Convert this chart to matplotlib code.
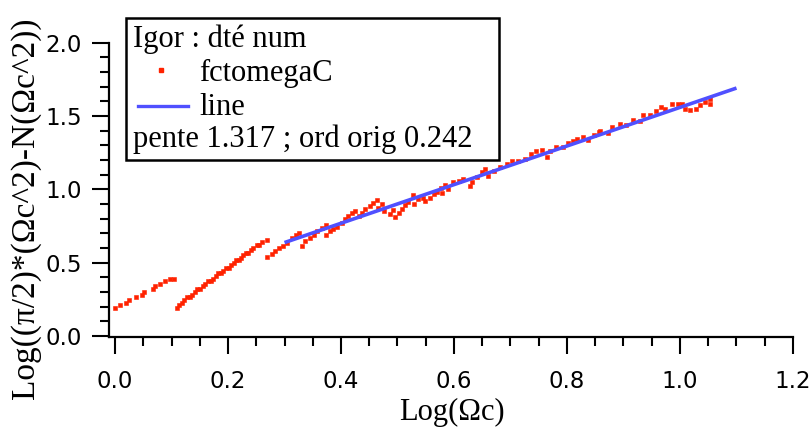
import matplotlib
matplotlib.use('Agg')
import matplotlib.pyplot as plt
from matplotlib.patches import Rectangle
from matplotlib.lines import Line2D
from matplotlib.ticker import MultipleLocator

# ---------------- data ----------------
seg1_x = [0.000, 0.009, 0.0195, 0.024, 0.038, 0.047, 0.052, 0.067, 0.071, 0.080, 0.0885, 0.097, 0.104]
seg1_y = [0.189, 0.208, 0.228, 0.247, 0.263, 0.281, 0.299, 0.320, 0.338, 0.357, 0.372, 0.391, 0.391]

seg2_x = [0.109, 0.114, 0.118, 0.123, 0.128, 0.132, 0.137, 0.141, 0.145, 0.150, 0.155, 0.160,
          0.164, 0.170, 0.173, 0.178, 0.183, 0.187, 0.192, 0.196, 0.201, 0.206, 0.210, 0.214,
          0.219, 0.223, 0.227, 0.232, 0.236, 0.241, 0.245, 0.251, 0.255, 0.260, 0.269]
seg2_y = [0.189, 0.208, 0.228, 0.247, 0.263, 0.263, 0.281, 0.299, 0.320, 0.320, 0.338, 0.357,
          0.372, 0.372, 0.391, 0.409, 0.430, 0.430, 0.446, 0.464, 0.464, 0.483, 0.499, 0.515,
          0.515, 0.533, 0.550, 0.568, 0.568, 0.587, 0.602, 0.621, 0.621, 0.641, 0.652]

seg3_x = [0.269, 0.277, 0.283, 0.291, 0.297, 0.304, 0.313, 0.320, 0.326, 0.331, 0.336, 0.345,
          0.352, 0.358, 0.366, 0.373, 0.374, 0.380, 0.386, 0.393, 0.401, 0.407, 0.413, 0.419,
          0.425, 0.431, 0.437, 0.442, 0.451, 0.457, 0.463, 0.466, 0.472, 0.476, 0.487, 0.492,
          0.496, 0.502, 0.508, 0.513, 0.519, 0.528, 0.529, 0.537, 0.546, 0.549, 0.558, 0.564,
          0.570, 0.577, 0.579, 0.584, 0.590, 0.599, 0.608, 0.616, 0.628, 0.631, 0.640, 0.649,
          0.655, 0.661, 0.670, 0.681, 0.693, 0.702, 0.714, 0.726, 0.737, 0.746, 0.755, 0.764,
          0.770, 0.781, 0.793, 0.802, 0.811, 0.817, 0.829, 0.838, 0.847, 0.856, 0.859, 0.873,
          0.879, 0.894, 0.905, 0.917, 0.929, 0.935, 0.947, 0.958, 0.967, 0.973, 0.985, 0.997,
          1.003, 1.009, 1.018, 1.029, 1.035, 1.044, 1.053, 1.053]
seg3_y = [0.537, 0.560, 0.578, 0.597, 0.612, 0.635, 0.665, 0.688, 0.704, 0.612, 0.647, 0.670,
          0.688, 0.715, 0.738, 0.756, 0.688, 0.715, 0.727, 0.743, 0.772, 0.796, 0.818, 0.841,
          0.853, 0.818, 0.841, 0.864, 0.887, 0.910, 0.926, 0.875, 0.898, 0.853, 0.830, 0.857,
          0.811, 0.841, 0.864, 0.893, 0.916, 0.962, 0.903, 0.933, 0.940, 0.921, 0.940, 0.967,
          0.985, 1.012, 0.978, 1.031, 1.001, 1.047, 1.054, 1.070, 1.024, 1.050, 1.081, 1.115,
          1.139, 1.093, 1.127, 1.154, 1.173, 1.195, 1.191, 1.207, 1.241, 1.259, 1.269, 1.218,
          1.264, 1.287, 1.291, 1.314, 1.328, 1.344, 1.360, 1.337, 1.374, 1.390, 1.401, 1.385,
          1.424, 1.447, 1.436, 1.470, 1.463, 1.504, 1.509, 1.531, 1.561, 1.550, 1.584, 1.582,
          1.584, 1.550, 1.543, 1.550, 1.573, 1.595, 1.614, 1.584]

fct_x = seg1_x + seg2_x + seg3_x
fct_y = seg1_y + seg2_y + seg3_y

pente = 1.317
ord_orig = 0.242
line_x = [0.3, 1.1]
line_y = [ord_orig + pente * v for v in line_x]

x_ticks = [0.0, 0.2, 0.4, 0.6, 0.8, 1.0, 1.2]
y_ticks = [0.0, 0.5, 1.0, 1.5, 2.0]

RED = '#FF2200'
BLUE = '#5050FF'
SERIF = ['Liberation Serif', 'DejaVu Serif']
SANS = ['DejaVu Sans']

W, H = 812, 433
fig = plt.figure(figsize=(W / 100, H / 100), dpi=100)

def fx(px):
    return px / W

def fy(py):
    return 1 - py / H

# axes: y-axis at px 109, x-axis at py 337
ax = fig.add_axes([fx(109), fy(337), (793 - 109) / W, (337 - 42.7) / H])
ax.set_xlim((109 - 115) / 565.0, 1.2)
ax.set_ylim(-(337 - 336) / 146.65, 2.0)

ax.plot(fct_x, fct_y, linestyle='none', marker='s', markersize=2.6,
        markerfacecolor=RED, markeredgecolor=RED, markeredgewidth=0.4, zorder=3)
ax.plot(line_x, line_y, color=BLUE, linewidth=2.6, solid_capstyle='butt', zorder=4)

for s in ['top', 'right']:
    ax.spines[s].set_visible(False)
for s in ['left', 'bottom']:
    ax.spines[s].set_linewidth(1.6)
    ax.spines[s].set_color('black')

ax.set_xticks(x_ticks)
ax.set_yticks(y_ticks)
ax.set_xticklabels([f'{v:.1f}' for v in x_ticks])
ax.set_yticklabels([f'{v:.1f}' for v in y_ticks])
ax.xaxis.set_minor_locator(MultipleLocator(0.05))
ax.yaxis.set_minor_locator(MultipleLocator(0.1))
ax.tick_params(axis='both', which='major', direction='out', length=12.5, width=1.5,
               labelsize=16.5, colors='black')
ax.tick_params(axis='both', which='minor', direction='out', length=6.5, width=1.5)
ax.tick_params(axis='x', which='major', pad=11)
ax.tick_params(axis='y', which='major', pad=7)
for lab in ax.get_xticklabels() + ax.get_yticklabels():
    lab.set_family(SANS)

# axis labels
fig.text(fx(452), fy(420), 'Log(\u03a9c)', family=SERIF, fontsize=22,
         ha='center', va='baseline')
fig.text(fx(26), fy(399), 'Log((\u03c0/2)*(\u03a9c^2)-N(\u03a9c^2))', family=SERIF,
         fontsize=24, rotation=90, ha='center', va='bottom')

# legend box
fig.patches.append(Rectangle((fx(126), fy(160)), (499 - 126) / W, (160 - 18) / H,
                             transform=fig.transFigure, facecolor='white',
                             edgecolor='black', linewidth=1.8, zorder=5))
fig.text(fx(133), fy(47), 'Igor : dt\u00e9 num', family=SERIF, fontsize=22,
         va='baseline', ha='left', zorder=6)
fig.lines.append(Line2D([fx(161)], [fy(70)], transform=fig.transFigure, linestyle='none',
                        marker='s', markersize=2.6, color=RED, zorder=6))
fig.text(fx(199), fy(81), 'fctomegaC', family=SERIF, fontsize=22,
         va='baseline', ha='left', zorder=6)
fig.lines.append(Line2D([fx(138), fx(188)], [fy(106), fy(106)], transform=fig.transFigure,
                        color=BLUE, linewidth=2.4, zorder=6))
fig.text(fx(199), fy(115), 'line', family=SERIF, fontsize=22,
         va='baseline', ha='left', zorder=6)
fig.text(fx(133), fy(147), f'pente {pente} ; ord orig {ord_orig}', family=SERIF,
         fontsize=22, va='baseline', ha='left', zorder=6)

fig.savefig('out.png', dpi=100)
